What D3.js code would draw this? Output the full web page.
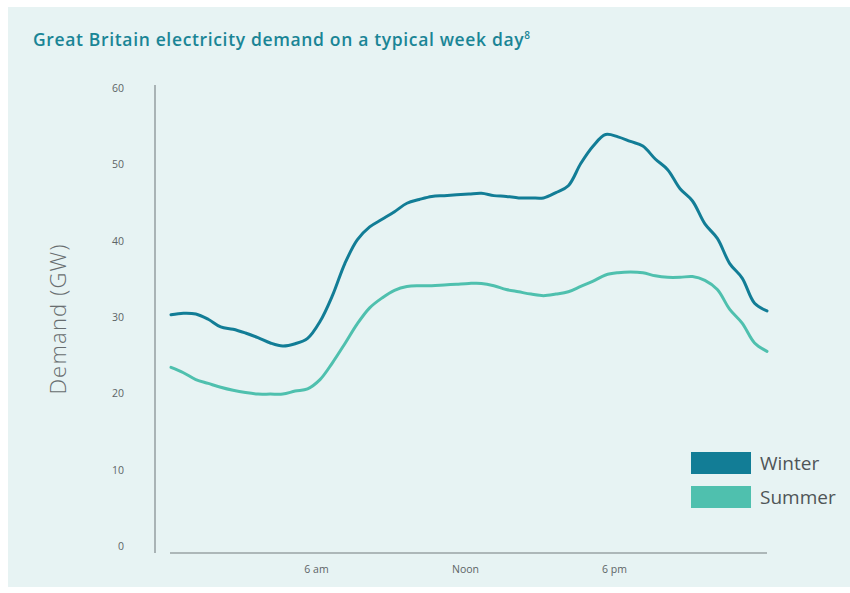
<!DOCTYPE html>
<html>
<head>
<meta charset="utf-8">
<script src="https://cdn.jsdelivr.net/npm/d3@7"></script>
<style>
  html, body { margin: 0; padding: 0; background: #ffffff; }
  svg { display: block; }
</style>
</head>
<body>
<svg id="chart" width="850" height="593"></svg>
<script>
// Half-hourly demand (GW) across a typical weekday, midnight to midnight
const hours = d3.range(0, 24.01, 0.5);
const winterDemand = [
  30.3, 30.5, 30.4, 29.7, 28.7, 28.4, 27.9, 27.3, 26.6, 26.2,
  26.5, 27.2, 29.4, 32.8, 37.0, 40.1, 41.8, 42.8, 43.8, 44.9,
  45.4, 45.8, 45.9, 46.0, 46.1, 46.2, 45.9, 45.8, 45.6, 45.6,
  45.6, 46.3, 47.2, 50.1, 52.4, 53.9, 53.6, 53.0, 52.4, 50.7,
  49.3, 46.8, 45.2, 42.2, 40.3, 37.0, 35.1, 31.8, 30.8
];
const summerDemand = [
  23.4, 22.7, 21.8, 21.3, 20.8, 20.4, 20.1, 19.9, 19.9, 19.9,
  20.3, 20.6, 21.8, 24.0, 26.5, 29.1, 31.2, 32.5, 33.5, 34.0,
  34.1, 34.1, 34.2, 34.3, 34.4, 34.4, 34.1, 33.6, 33.3, 33.0,
  32.8, 33.0, 33.3, 34.0, 34.7, 35.5, 35.8, 35.9, 35.8, 35.4,
  35.2, 35.2, 35.3, 34.8, 33.6, 31.0, 29.2, 26.6, 25.5
];
const seriesNames = ["Winter", "Summer"];
const seriesColors = ["#127d96", "#4fc0ae"];
const yTicks = [0, 10, 20, 30, 40, 50, 60];
const xTickHours = [6, 12, 18];
const xTickLabels = ["6 am", "Noon", "6 pm"];

const svg = d3.select("#chart");
const W = 850, H = 593;

// panel background
svg.append("rect")
  .attr("x", 8).attr("y", 7)
  .attr("width", W - 8).attr("height", 580)
  .attr("fill", "#e7f3f3");

const x = d3.scaleLinear().domain([0, 24]).range([171, 767]);
const y = d3.scaleLinear().domain([0, 60]).range([546, 88]);

// title
const title = svg.append("text")
  .attr("x", 33).attr("y", 46)
  .attr("fill", "#1a8596")
  .attr("font-family", "'Open Sans', sans-serif")
  .attr("font-weight", 600)
  .attr("font-size", 17.5)
  .attr("letter-spacing", 0.65);
title.append("tspan").text("Great Britain electricity demand on a typical week day");
title.append("tspan").attr("font-size", 10).attr("dy", -7).attr("letter-spacing", 0).text("8");

// y axis line
svg.append("line")
  .attr("x1", 155).attr("x2", 155)
  .attr("y1", 85).attr("y2", 553)
  .attr("stroke", "#9aa3a5").attr("stroke-width", 1.6);

// x axis line
svg.append("line")
  .attr("x1", 170).attr("x2", 767)
  .attr("y1", 553).attr("y2", 553)
  .attr("stroke", "#9aa3a5").attr("stroke-width", 1.6);

// y tick labels
const yAxis = d3.axisLeft(y).tickValues(yTicks).tickSize(0).tickPadding(0);
const gy = svg.append("g").attr("transform", "translate(124,0)").call(yAxis);
gy.select(".domain").remove();
gy.selectAll("text")
  .attr("text-anchor", "end")
  .attr("fill", "#5d6466")
  .attr("font-family", "'Open Sans', sans-serif")
  .attr("font-size", 10.5);

// x tick labels
const xAxis = d3.axisBottom(x).tickValues(xTickHours)
  .tickFormat((d, i) => xTickLabels[i]).tickSize(0).tickPadding(0);
const gx = svg.append("g").attr("transform", "translate(-4,566)").call(xAxis);
gx.select(".domain").remove();
gx.selectAll("text")
  .attr("fill", "#5d6466")
  .attr("font-family", "'Open Sans', sans-serif")
  .attr("font-size", 10.5);

// y axis title
svg.append("text")
  .attr("transform", "translate(66,319) rotate(-90)")
  .attr("text-anchor", "middle")
  .attr("fill", "#676d6f")
  .attr("font-family", "'Open Sans', sans-serif")
  .attr("font-weight", 300)
  .attr("font-size", 22)
  .attr("letter-spacing", 1.2)
  .text("Demand (GW)");

// demand lines
const line = d3.line()
  .x((d, i) => x(hours[i]))
  .y(d => y(d))
  .curve(d3.curveCatmullRom.alpha(0.5));

[winterDemand, summerDemand].forEach((vals, k) => {
  svg.append("path")
    .datum(vals)
    .attr("d", line)
    .attr("fill", "none")
    .attr("stroke", seriesColors[k])
    .attr("stroke-width", 3)
    .attr("stroke-linejoin", "round")
    .attr("stroke-linecap", "round");
});

// legend
const legend = svg.append("g").attr("transform", "translate(691,452)");
seriesNames.forEach((name, k) => {
  const g = legend.append("g").attr("transform", `translate(0,${k * 34})`);
  g.append("rect").attr("width", 60).attr("height", 22).attr("fill", seriesColors[k]);
  g.append("text")
    .attr("x", 69).attr("y", 11).attr("dy", "0.35em")
    .attr("fill", "#4f5557")
    .attr("font-family", "'Open Sans', sans-serif")
    .attr("font-size", 19)
    .text(name);
});
</script>
</body>
</html>
